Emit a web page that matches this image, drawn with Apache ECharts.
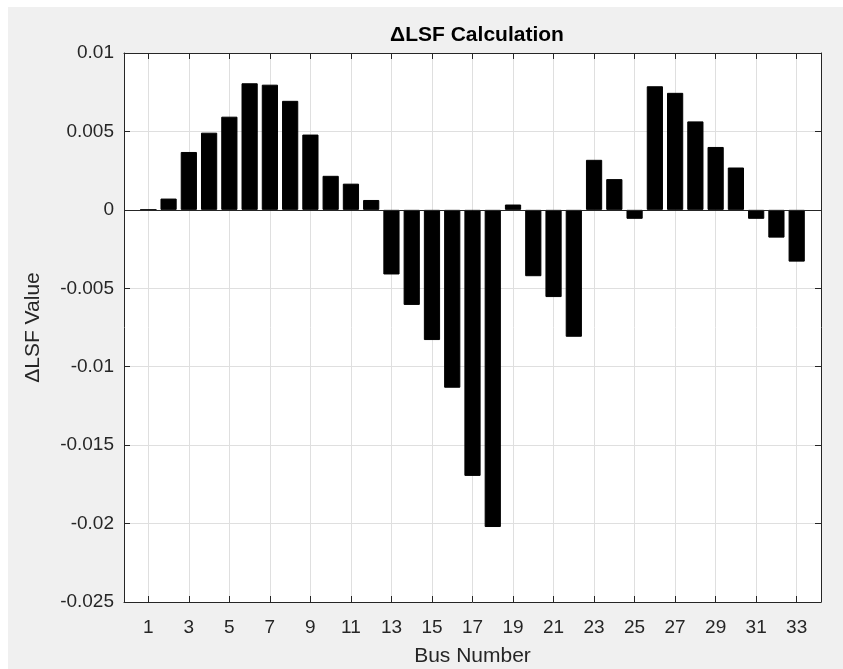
<!DOCTYPE html>
<html>
<head>
<meta charset="utf-8">
<script src="https://cdn.jsdelivr.net/npm/echarts@6/dist/echarts.min.js"></script>
<style>
  html, body { margin: 0; padding: 0; background: #ffffff; }
  #bg { position: absolute; left: 8px; top: 7px; right: 0; bottom: 0; background: #f0f0f0; }
  #chart { position: absolute; left: 0; top: 0; width: 843px; height: 669px; }
</style>
</head>
<body>
<div id="bg"></div>
<div id="chart"></div>
<script>
// Bus numbers (categories)
const busNumbers = [1,2,3,4,5,6,7,8,9,10,11,12,13,14,15,16,17,18,19,20,21,22,23,24,25,26,27,28,29,30,31,32,33];
// ΔLSF values
const deltaLSF = [
  0.0, 0.00072, 0.00369, 0.00492, 0.00594, 0.00807, 0.00798, 0.00695, 0.0048, 0.00217, 0.00167,
  0.00063, -0.00412, -0.00606, -0.0083, -0.01134, -0.01696, -0.02022, 0.00034, -0.00423, -0.00556,
  -0.00809, 0.00319, 0.00196, -0.00057, 0.00788, 0.00746, 0.00564, 0.00401, 0.0027, -0.00057,
  -0.00177, -0.0033
];
// Tick labels on the x axis
const xTickValues = [1,3,5,7,9,11,13,15,17,19,21,23,25,27,29,31,33];

const textColor = '#262626';
const fontFamily = 'Liberation Sans, Arial, Helvetica, sans-serif';

const chart = echarts.init(document.getElementById('chart'), null, { renderer: 'canvas' });

const xMin = -0.2, xMax = 34.2;
const yMin = -0.025, yMax = 0.01, yStep = 0.005;

const option = {
  backgroundColor: 'transparent',
  animation: false,
  title: {
    text: 'ΔLSF Calculation',
    left: 472, top: 20, textAlign: 'center',
    textStyle: { fontFamily, fontSize: 21, fontWeight: 'bold', color: '#000' }
  },
  grid: { left: 124, top: 53, right: 22, bottom: 67, containLabel: false, outerBoundsMode: 'none',
    backgroundColor: '#fff', show: true, borderWidth: 0 },
  xAxis: [
    {
      type: 'value', min: xMin, max: xMax, position: 'bottom',
      name: 'Bus Number', nameLocation: 'middle', nameGap: 44,
      nameTextStyle: { fontFamily, fontSize: 21, color: textColor },
      axisLine: { show: true, onZero: false, lineStyle: { color: textColor, width: 1 } },
      axisTick: { show: true, inside: true, length: 6, customValues: xTickValues, lineStyle: { color: textColor } },
      axisLabel: { show: true, margin: 16, customValues: xTickValues, fontFamily, fontSize: 19, color: textColor },
      splitLine: { show: true, lineStyle: { color: '#dfdfdf', width: 1 } }
    },
    {
      type: 'value', min: xMin, max: xMax, position: 'top',
      axisLine: { show: true, onZero: false, lineStyle: { color: textColor, width: 1 } },
      axisTick: { show: true, inside: true, length: 6, customValues: xTickValues, lineStyle: { color: textColor } },
      axisLabel: { show: false },
      splitLine: { show: false }
    }
  ],
  yAxis: [
    {
      type: 'value', min: yMin, max: yMax, interval: yStep, position: 'left',
      name: 'ΔLSF Value', nameLocation: 'middle', nameGap: 80, nameRotate: 90,
      nameTextStyle: { fontFamily, fontSize: 21, color: textColor },
      axisLine: { show: true, onZero: false, lineStyle: { color: textColor, width: 1 } },
      axisTick: { show: true, inside: true, length: 6, lineStyle: { color: textColor } },
      axisLabel: { margin: 10, fontFamily, fontSize: 19, color: textColor,
        formatter: v => String(+v.toFixed(3)) },
      splitLine: { show: true, lineStyle: { color: '#dfdfdf', width: 1 } }
    },
    {
      type: 'value', min: yMin, max: yMax, interval: yStep, position: 'right',
      axisLine: { show: true, onZero: false, lineStyle: { color: textColor, width: 1 } },
      axisTick: { show: true, inside: true, length: 6, lineStyle: { color: textColor } },
      axisLabel: { show: false },
      splitLine: { show: false }
    }
  ],
  series: [
    {
      type: 'bar',
      xAxisIndex: 0, yAxisIndex: 0,
      data: busNumbers.map((b, i) => [b, deltaLSF[i]]),
      barWidth: '80%',
      itemStyle: { color: '#000', borderColor: '#000', borderWidth: 1 },
      markLine: {
        silent: true, symbol: 'none', label: { show: false },
        lineStyle: { color: '#262626', width: 1, type: 'solid' },
        data: [{ yAxis: 0 }]
      }
    }
  ]
};

chart.setOption(option);
</script>
</body>
</html>
